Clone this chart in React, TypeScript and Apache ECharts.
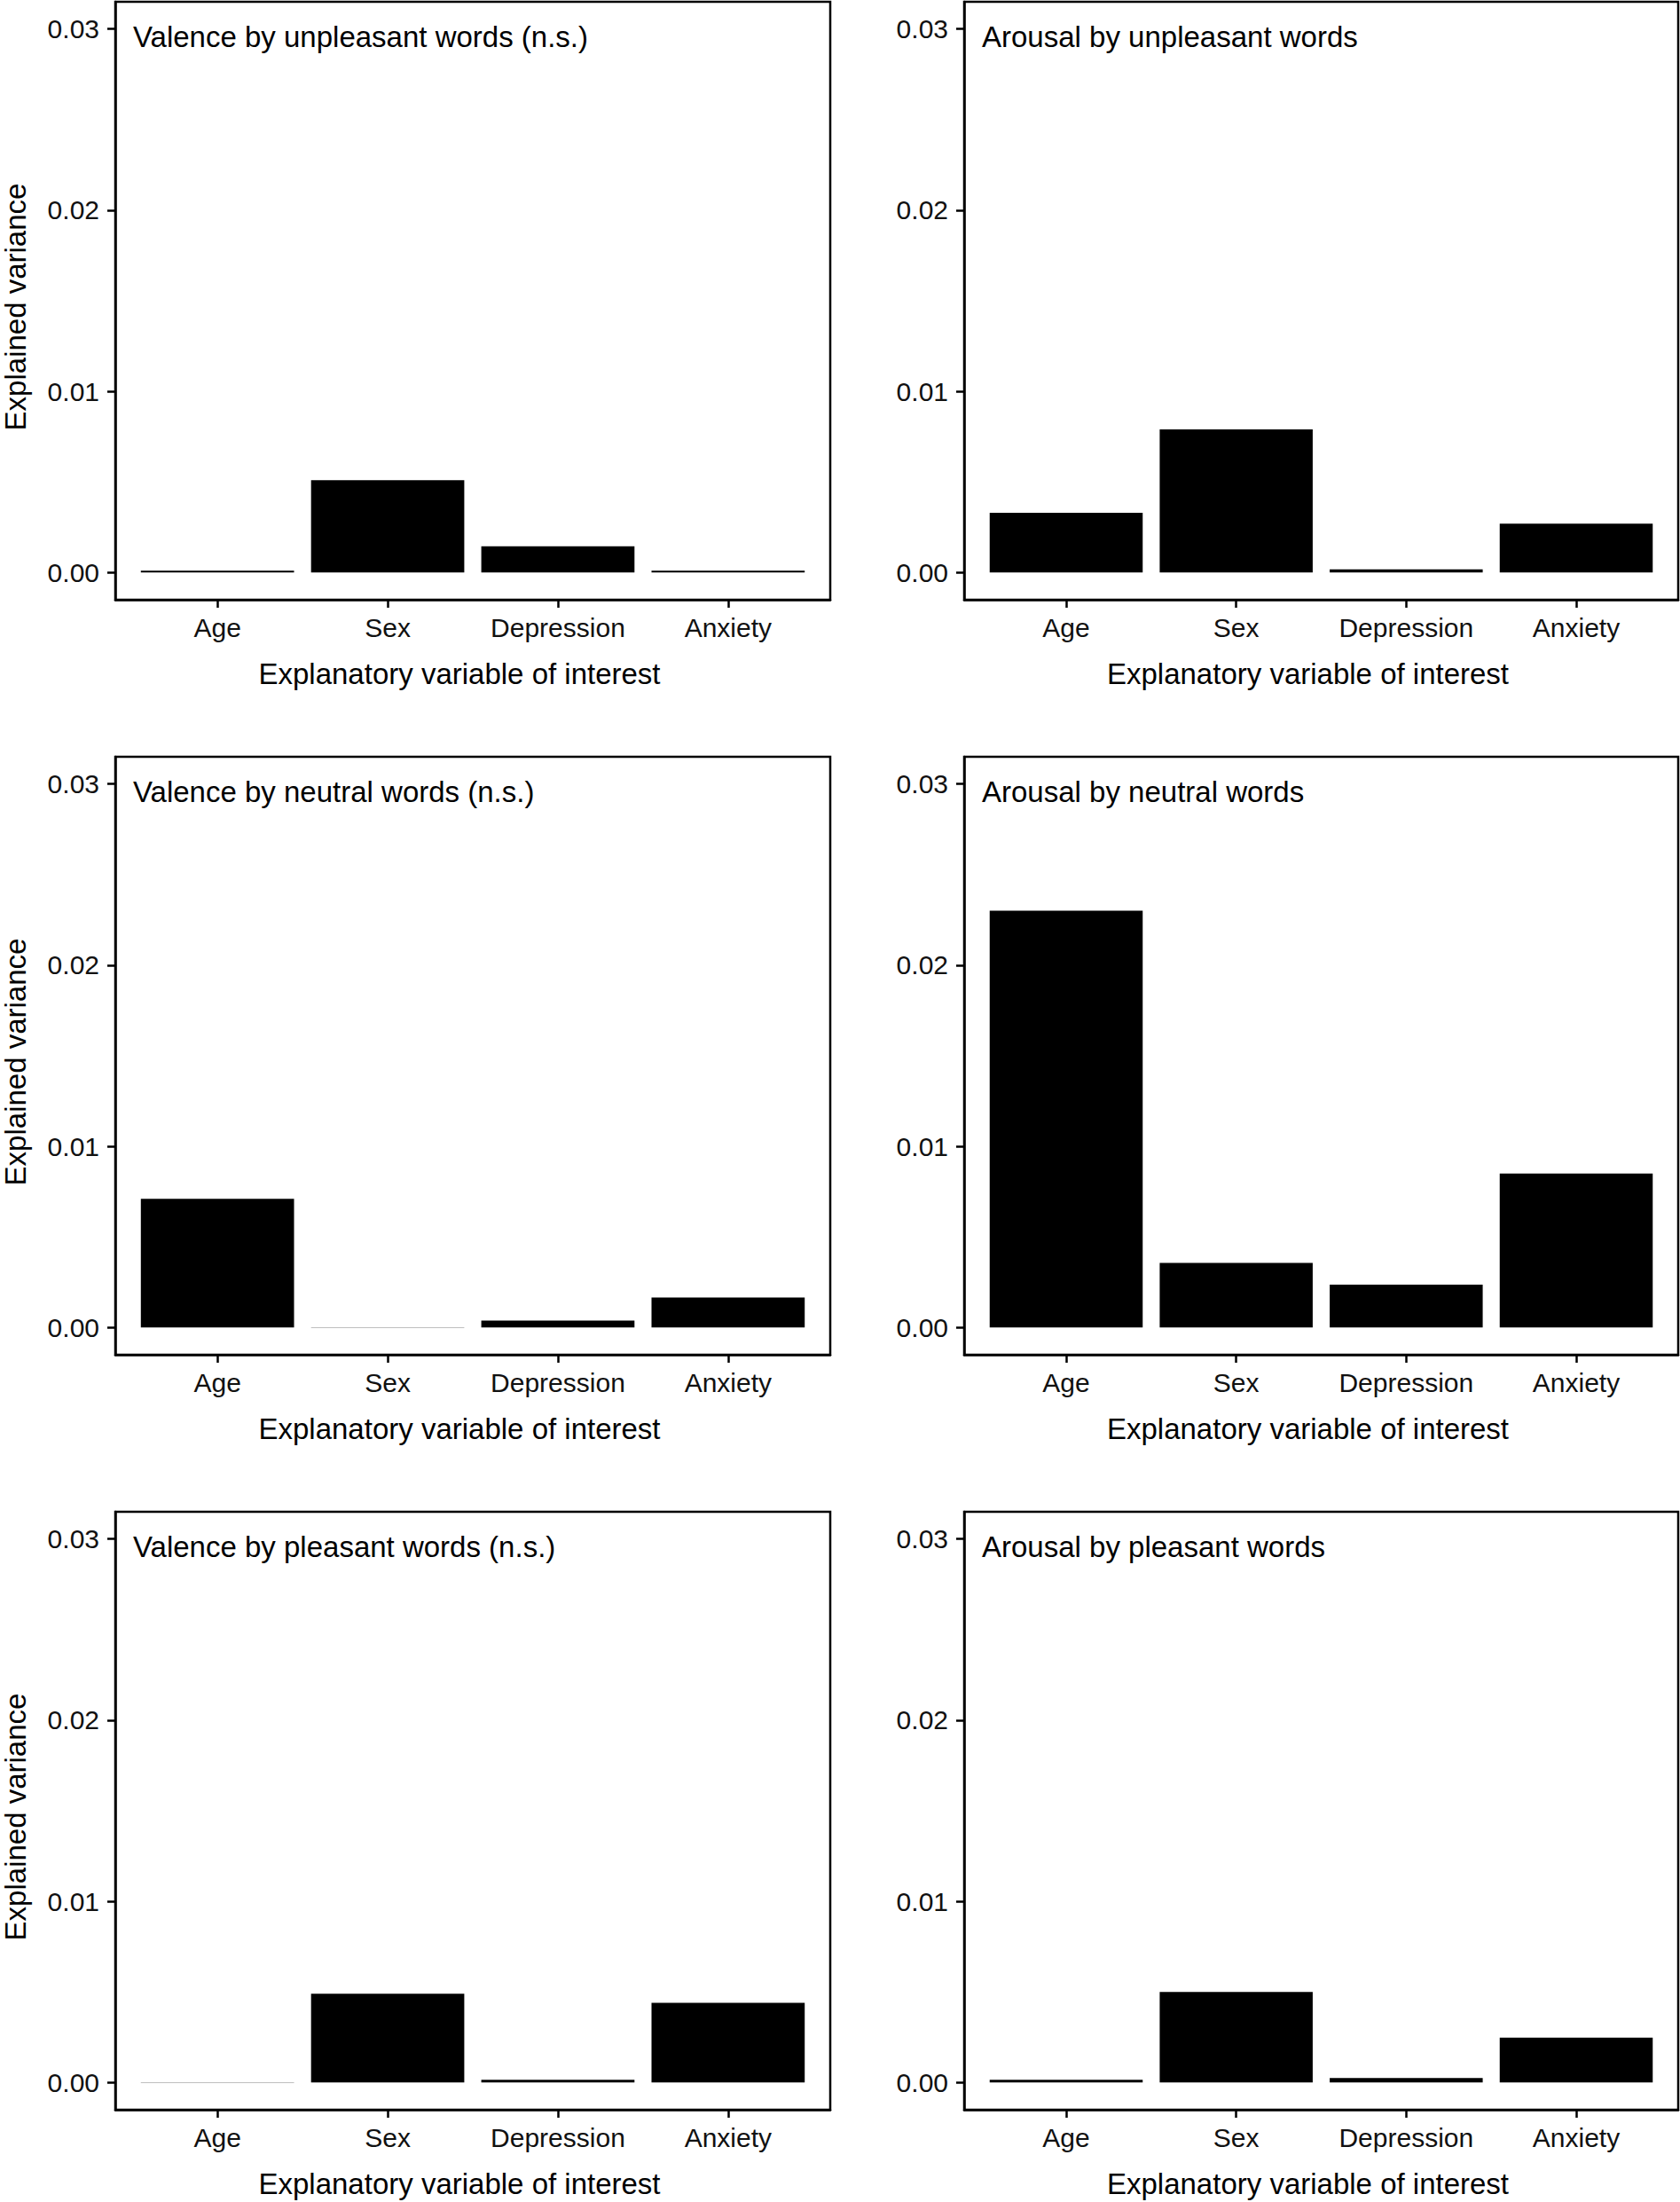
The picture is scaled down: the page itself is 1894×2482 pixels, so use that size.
import React, { useEffect, useRef } from 'react';
import * as echarts from 'echarts';

// ---- data ----
const categories = ['Age', 'Sex', 'Depression', 'Anxiety'];
const yTicks = [0, 0.01, 0.02, 0.03];
const xTicks = [1, 2, 3, 4];

const valenceUnpleasant = [0.0001, 0.0051, 0.00145, 0.0001];
const arousalUnpleasant = [0.0033, 0.0079, 0.00018, 0.0027];
const valenceNeutral = [0.0071, 0.00002, 0.00039, 0.00166];
const arousalNeutral = [0.023, 0.00357, 0.00237, 0.0085];
const valencePleasant = [0.00002, 0.0049, 0.00015, 0.0044];
const arousalPleasant = [0.00015, 0.005, 0.00025, 0.00248];

const panelTitles = [
  'Valence by unpleasant words (n.s.)',
  'Arousal by unpleasant words',
  'Valence by neutral words (n.s.)',
  'Arousal by neutral words',
  'Valence by pleasant words (n.s.)',
  'Arousal by pleasant words',
];
const panelValues = [
  valenceUnpleasant,
  arousalUnpleasant,
  valenceNeutral,
  arousalNeutral,
  valencePleasant,
  arousalPleasant,
];

const yTitle = 'Explained variance';
const xTitle = 'Explanatory variable of interest';

// ---- layout ----
const W = 1894;
const H = 2482;
const colLeft = [130, 1087];
const colWidth = [806, 805];
const rowTop = [2, 853, 1704];
const rowHeight = 674;
const FONT = "'Liberation Sans', Arial, Helvetica, sans-serif";
const LINE_W = 2.5;
const TICK_FONT = 30;
const TITLE_FONT = 33;

function buildOption() {
  const grid: any[] = [];
  const xAxis: any[] = [];
  const yAxis: any[] = [];
  const series: any[] = [];
  const title: any[] = [];

  panelValues.forEach((vals, i) => {
    const col = i % 2;
    const row = Math.floor(i / 2);
    grid.push({
      left: colLeft[col],
      top: rowTop[row],
      width: colWidth[col],
      height: rowHeight,
      show: true,
      borderColor: '#000',
      borderWidth: LINE_W,
      backgroundColor: 'transparent',
      containLabel: false,
    });
    xAxis.push({
      type: 'value',
      gridIndex: i,
      min: 0.4,
      max: 4.6,
      splitLine: { show: false },
      axisLine: { show: true, onZero: false, lineStyle: { color: '#000', width: LINE_W } },
      axisTick: {
        show: true,
        length: 9,
        customValues: xTicks,
        lineStyle: { color: '#000', width: LINE_W },
      },
      axisLabel: {
        customValues: xTicks,
        formatter: (v: number) => categories[Math.round(v) - 1] ?? '',
        fontSize: TICK_FONT,
        fontFamily: FONT,
        color: '#111',
        margin: 16,
      },
      name: xTitle,
      nameLocation: 'middle',
      nameGap: 67,
      nameTextStyle: { fontSize: TITLE_FONT, fontFamily: FONT, color: '#000', padding: [0, 30, 0, 0] },
    });
    yAxis.push({
      type: 'value',
      gridIndex: i,
      min: -0.0015,
      max: 0.0315,
      splitLine: { show: false },
      axisLine: { show: true, onZero: false, lineStyle: { color: '#000', width: LINE_W } },
      axisTick: {
        show: true,
        length: 9,
        customValues: yTicks,
        lineStyle: { color: '#000', width: LINE_W },
      },
      axisLabel: {
        customValues: yTicks,
        formatter: (v: number) => v.toFixed(2),
        fontSize: TICK_FONT,
        fontFamily: FONT,
        color: '#111',
        margin: 18,
      },
      name: col === 0 ? yTitle : '',
      nameLocation: 'middle',
      nameGap: 96,
      nameTextStyle: { fontSize: TITLE_FONT, fontFamily: FONT, color: '#000', padding: [0, 14, 0, 0] },
    });
    series.push({
      type: 'bar',
      xAxisIndex: i,
      yAxisIndex: i,
      data: vals.map((v, j) => [xTicks[j], v]),
      barWidth: '90%',
      itemStyle: { color: '#000' },
      silent: true,
    });
    title.push({
      text: panelTitles[i],
      left: colLeft[col] + 20,
      top: rowTop[row] + 23,
      padding: 0,
      textStyle: { fontSize: TITLE_FONT, fontWeight: 'normal', color: '#000', fontFamily: FONT },
    });
  });

  return {
    animation: false,
    backgroundColor: '#fff',
    textStyle: { fontFamily: FONT },
    title,
    grid,
    xAxis,
    yAxis,
    series,
  };
}

export default function App() {
  const ref = useRef<HTMLDivElement>(null);
  useEffect(() => {
    if (!ref.current) return;
    const chart = echarts.init(ref.current, undefined, { renderer: 'svg', width: W, height: H });
    chart.setOption(buildOption());
    return () => chart.dispose();
  }, []);
  return (
    <div
      ref={ref}
      style={{ position: 'absolute', left: 0, top: 0, width: W, height: H, background: '#fff' }}
    />
  );
}
